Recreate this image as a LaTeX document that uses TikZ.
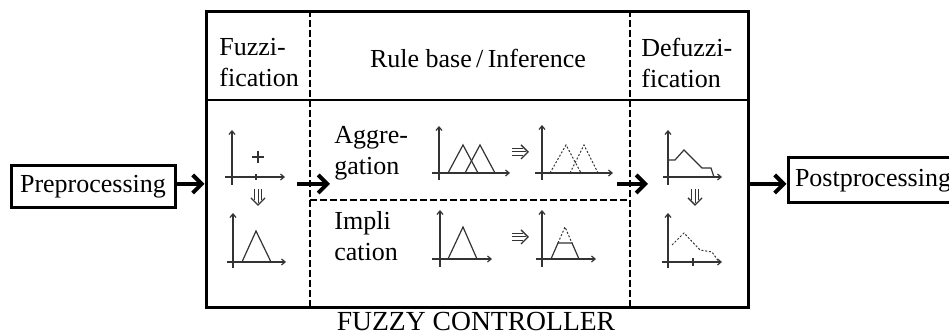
\documentclass[tikz,border=0pt]{standalone}
\usepackage{fontspec}
\setmainfont{Liberation Serif}
\usetikzlibrary{arrows.meta}
\begin{document}
\begin{tikzpicture}[x=0.5pt,y=-0.5pt,
  lbl/.style={font=\fontsize{13}{15.5}\selectfont, inner sep=0pt, align=left},
  boxed/.style={draw, line width=1.5pt, inner sep=0pt, font=\fontsize{13}{15.5}\selectfont},
  bigarrow/.style={line width=2pt, -{Straight Barb[length=4.5pt,width=9pt]}},
  sep/.style={line width=1pt},
  dsep/.style={line width=1pt, dash pattern=on 3.5pt off 1.5pt},
  icon/.style={line width=0.6pt, draw=black!80},
  ax/.style={icon, -{Straight Barb[length=1.8pt,width=3pt]}},
  dots/.style={icon, line width=0.5pt, dash pattern=on 1pt off 0.9pt},
  tripr/.pic={
    \draw[icon, line width=0.5pt] (-8,-3.5) -- (3,-3.5) (-8,0) -- (6,0) (-8,3.5) -- (3,3.5);
    \draw[icon, line width=0.7pt] (1,-7) -- (8,0) -- (1,7);
  }]
\useasboundingbox (0,0) rectangle (949,335);

% main boxes
\node[boxed, minimum width=271pt, minimum height=148pt] (fc) at (477,160) {};
\node[boxed, minimum width=82pt, minimum height=21pt] (pre) at (93,187) {Preprocessing};
\node[boxed, minimum width=85pt, minimum height=22.5pt] (post) at (873,180.5) {Postprocessing};

% header separator and dashed column lines
\draw[sep] (fc.west |- 0,100) -- (fc.east |- 0,100);
\draw[dsep] (310,0 |- fc.north) -- (310,0 |- fc.south);
\draw[dsep] (630,0 |- fc.north) -- (630,0 |- fc.south);
\draw[dsep] (310,200) -- (630,200);

% headers
\node[lbl, anchor=west] (hfuz) at (219,63) {Fuzzi-\\fication};
\node[lbl] (hrule) at (478,58) {Rule base\,/\,Inference};
\node[lbl, anchor=west] (hdef) at (641,63) {Defuzzi-\\fication};
\node[lbl, anchor=west] (agg) at (334,153) {Aggre-\\gation};
\node[lbl, anchor=west] (imp) at (334,236) {Impli\\cation};
\node[lbl, font=\fontsize{13.8}{16}\selectfont] (title) at (476,322) {FUZZY CONTROLLER};

% connectors
\coordinate (ay) at (0,184);
\coordinate (fzout) at (297,184);
\coordinate (agin) at (330,184);
\coordinate (agout) at (617,184);
\coordinate (dfin) at (648,184);
\draw[bigarrow] (pre.east |- ay) -- (fc.west |- ay);
\draw[bigarrow] (fzout) -- (agin);
\draw[bigarrow] (agout) -- (dfin);
\draw[bigarrow] (fc.east |- ay) -- (post.west |- ay);

% fuzzification icons
\draw[ax] (225,177) -- (285,177);
\draw[ax] (232,185) -- (232,130);
\draw[icon] (256,174) -- (256,180);
\draw[icon] (252,157) -- (264,157) (258,151) -- (258,163);
\pic[rotate=-90] at (258,197) {tripr};
\draw[ax] (227,262) -- (286,262);
\draw[ax] (233,268) -- (233,213);
\draw[icon] (242,262) -- (256,231) -- (271,262);

% aggregation icons
\draw[ax] (432,173) -- (510,173);
\draw[ax] (439,180) -- (439,126);
\draw[icon] (448,173) -- (463,145) -- (478,173);
\draw[icon] (465,173) -- (480,145) -- (495,173);
\pic at (520,152) {tripr};
\draw[ax] (535,173) -- (613,173);
\draw[ax] (542,180) -- (542,125);
\draw[dots] (550,173) -- (566,145) -- (581,173);
\draw[dots] (570,173) -- (584,145) -- (598,173);

% implication icons
\draw[ax] (432,259) -- (492,259);
\draw[ax] (440,267) -- (440,210);
\draw[icon] (448,259) -- (463,227) -- (477,259);
\pic at (520,237) {tripr};
\draw[ax] (536,259) -- (596,259);
\draw[ax] (542,267) -- (542,210);
\draw[icon] (551,259) -- (558,243) -- (572,243) -- (579,259);
\draw[dots] (558,243) -- (565,227) -- (572,243);

% defuzzification icons
\draw[ax] (663,177) -- (722,177);
\draw[ax] (668,185) -- (668,130);
\draw[icon] (668,160) -- (675,160) -- (684,150) -- (702,168) -- (711,168) -- (714,177);
\pic[rotate=-90] at (695,197) {tripr};
\draw[ax] (662,262) -- (722,262);
\draw[ax] (668,268) -- (668,213);
\draw[icon] (693,258) -- (693,266);
\draw[dots] (672,245) -- (684,233) -- (700,250) -- (712,252) -- (719,262);
\end{tikzpicture}
\end{document}
